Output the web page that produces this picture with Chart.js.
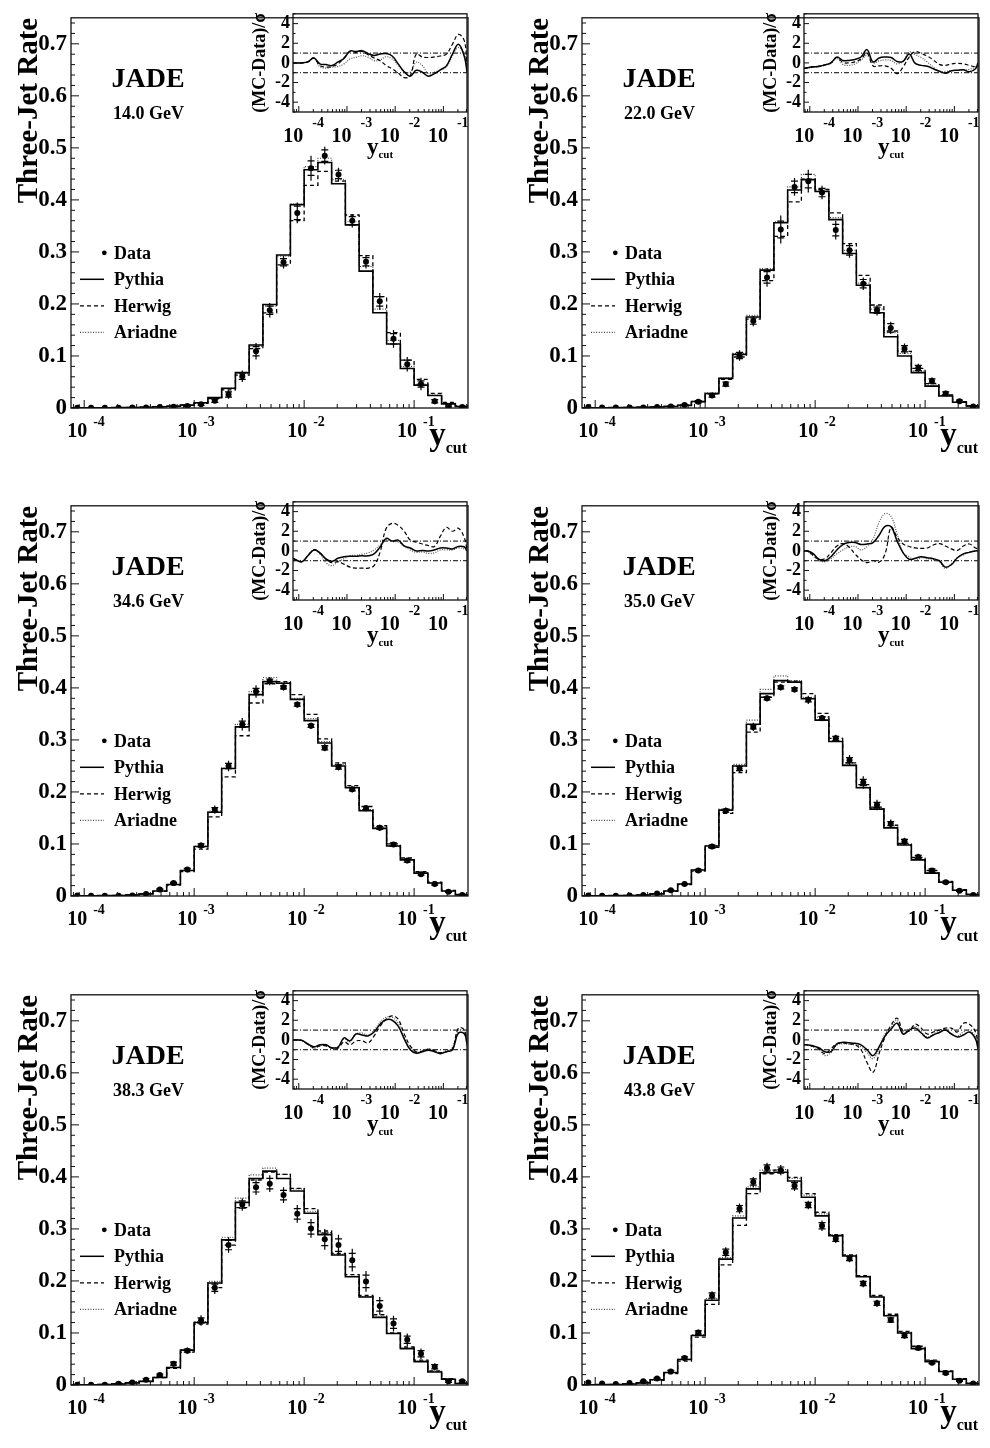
<!DOCTYPE html>
<html><head><meta charset="utf-8">
<script src="https://cdn.jsdelivr.net/npm/chart.js@4.4.0/dist/chart.umd.min.js"></script>
<style>
html,body{margin:0;padding:0;background:#fff;}
#wrap{position:relative;width:990px;height:1448px;overflow:hidden;background:#fff;}
#wrap canvas{position:absolute;}
</style></head><body><div id="wrap"></div>
<script>
// ---------------- DATA ----------------
// bin centres, log10(y_cut)
const logYcut = [-4.0625,-3.9375,-3.8125,-3.6875,-3.5625,-3.4375,-3.3125,-3.1875,-3.0625,-2.9375,-2.8125,-2.6875,-2.5625,-2.4375,-2.3125,-2.1875,-2.0625,-1.9375,-1.8125,-1.6875,-1.5625,-1.4375,-1.3125,-1.1875,-1.0625,-0.9375,-0.8125,-0.6875,-0.5625];
const HALF_BIN = 0.0625;
const xRange = [-4.12, -0.51];
const yTicks = [0,0.1,0.2,0.3,0.4,0.5,0.6,0.7];
const insetYTicks = [-4,-2,0,2,4];
const xDecades = [-4,-3,-2,-1];
const xDecadeLabels = ['-4','-3','-2','-1'];
const insetX = [-4.12,-4.0625,-3.9375,-3.8125,-3.6875,-3.5625,-3.4375,-3.3125,-3.1875,-3.0625,-2.9375,-2.8125,-2.6875,-2.5625,-2.4375,-2.3125,-2.1875,-2.0625,-1.9375,-1.8125,-1.6875,-1.5625,-1.4375,-1.3125,-1.1875,-1.0625,-0.9375,-0.8125,-0.6875,-0.5625,-0.51];
const insetRefLines = [1,-1];
const energies = ['14.0 GeV','22.0 GeV','34.6 GeV','35.0 GeV','38.3 GeV','43.8 GeV'];
const legendLabels = ['Data','Pythia','Herwig','Ariadne'];

// 14.0 GeV
const data14 = [0.0005,0.0005,0.0005,0.0007,0.001,0.0012,0.0018,0.0025,0.004,0.007,0.014,0.026,0.061,0.109,0.188,0.280,0.375,0.461,0.485,0.449,0.360,0.281,0.205,0.133,0.084,0.046,0.013,0.004,0.002];
const errTot14 = [0.001,0.001,0.001,0.001,0.001,0.001,0.001,0.001,0.002,0.003,0.004,0.008,0.011,0.016,0.014,0.012,0.020,0.024,0.017,0.013,0.013,0.013,0.016,0.017,0.014,0.012,0.006,0.003,0.002];
const errStat14 = [0,0,0,0,0,0,0,0,0.001,0.002,0.003,0.005,0.006,0.009,0.008,0.007,0.013,0.014,0.011,0.008,0.008,0.008,0.009,0.010,0.008,0.006,0.003,0.002,0.001];
const pythia14 = [0.0003,0.0004,0.0005,0.0007,0.001,0.0015,0.0025,0.0035,0.0055,0.010,0.020,0.038,0.068,0.121,0.199,0.294,0.391,0.458,0.472,0.431,0.352,0.263,0.183,0.123,0.076,0.044,0.024,0.008,0.003];
const herwig14 = [0.0003,0.0004,0.0005,0.0007,0.001,0.0015,0.0025,0.0035,0.005,0.009,0.018,0.035,0.063,0.114,0.183,0.275,0.360,0.428,0.455,0.436,0.371,0.293,0.214,0.145,0.092,0.055,0.028,0.011,0.004];
const ariadne14 = [0.0003,0.0004,0.0005,0.0007,0.001,0.0015,0.0025,0.0035,0.0055,0.010,0.020,0.037,0.066,0.119,0.196,0.292,0.392,0.464,0.480,0.439,0.358,0.272,0.190,0.130,0.080,0.046,0.025,0.009,0.003];
const pyDev14 = [0,0,0,0.1,0.5,-0.1,-0.17,-0.27,0.1,0.45,1.2,1.15,1.25,0.95,0.75,0.9,0.95,0.7,-0.1,-0.9,-1.35,-0.75,-0.95,-1.35,-1.1,-0.7,-0.3,0.9,1.9,0.6,-0.93];
const hwDev14 = [0,0,0,0.1,0.5,-0.27,-0.43,-0.37,-0.1,0.5,1.17,1.07,1.17,0.83,0.5,0.23,-0.27,-0.6,-1.03,-1.5,-1.3,0.9,0.6,0.55,0.6,0.7,0.9,1.9,2.9,2.2,-0.5];
const arDev14 = [0,0,0,0.1,0.5,-0.37,-0.53,-0.43,-0.37,-0.1,0.4,0.57,0.73,0.57,0.23,0.3,0.63,0.4,-0.27,-0.93,-0.93,0.07,-0.27,-1.1,-0.93,-0.7,-0.43,0.73,1.57,0.9,-0.77];

// 22.0 GeV
const data22 = [0.002,0.001,0.001,0.001,0.001,0.002,0.003,0.006,0.012,0.024,0.046,0.101,0.167,0.251,0.343,0.425,0.436,0.414,0.342,0.303,0.239,0.188,0.154,0.114,0.077,0.052,0.028,0.013,0.003];
const errTot22 = [0.001,0.001,0.001,0.001,0.001,0.001,0.001,0.002,0.003,0.004,0.006,0.010,0.010,0.018,0.027,0.017,0.022,0.013,0.018,0.014,0.012,0.010,0.012,0.010,0.008,0.007,0.005,0.003,0.002];
const errStat22 = [0,0,0,0,0,0,0.001,0.001,0.002,0.003,0.004,0.006,0.006,0.011,0.016,0.011,0.013,0.008,0.011,0.009,0.008,0.006,0.008,0.006,0.005,0.004,0.003,0.002,0.001];
const pythia22 = [0.0004,0.0005,0.0007,0.001,0.0015,0.002,0.003,0.005,0.0126,0.028,0.057,0.103,0.175,0.265,0.356,0.419,0.439,0.416,0.362,0.297,0.236,0.183,0.137,0.100,0.068,0.042,0.023,0.011,0.004];
const herwig22 = [0.0004,0.0005,0.0007,0.001,0.0015,0.002,0.003,0.005,0.012,0.027,0.055,0.098,0.171,0.245,0.330,0.396,0.440,0.420,0.375,0.316,0.255,0.198,0.148,0.109,0.076,0.047,0.025,0.012,0.004];
const ariadne22 = [0.0004,0.0005,0.0007,0.001,0.0015,0.002,0.003,0.005,0.013,0.029,0.058,0.105,0.178,0.268,0.358,0.425,0.449,0.419,0.366,0.303,0.240,0.190,0.145,0.105,0.071,0.044,0.024,0.011,0.004];
const pyDev22 = [-0.55,-0.5,-0.4,-0.35,-0.2,0,0.6,0.25,0.25,0.35,0.6,1.35,0.1,0.5,0.6,0.55,0.15,0.15,0.9,-0.05,-0.25,-0.35,-0.6,-0.85,-1.05,-0.8,-0.75,-0.7,-0.9,-0.6,0];
const hwDev22 = [-0.55,-0.5,-0.4,-0.35,-0.2,0,0.55,0.05,0,0.1,0.4,1.0,-0.3,-0.3,-0.3,-0.55,-1.1,-0.4,0.6,1.15,0.95,0.7,0.3,-0.15,-0.25,-0.1,-0.05,-0.1,-0.25,-0.4,-0.35];
const arDev22 = [-0.55,-0.55,-0.45,-0.4,-0.25,-0.05,0.45,-0.15,-0.25,-0.1,0.25,0.75,0.0,0.2,0.3,0.25,-0.1,0.2,1.1,0.85,0.55,0.1,-0.45,-0.85,-0.85,-0.8,-0.75,-0.75,-0.65,-0.4,-0.2];

// 34.6 GeV
const data346 = [0.001,0.0006,0.0006,0.0006,0.001,0.004,0.0126,0.025,0.051,0.097,0.166,0.250,0.330,0.393,0.413,0.401,0.368,0.327,0.285,0.248,0.205,0.169,0.131,0.099,0.068,0.042,0.023,0.008,0.002];
const errTot346 = [0.001,0.001,0.001,0.001,0.001,0.001,0.002,0.003,0.004,0.006,0.008,0.010,0.012,0.012,0.008,0.006,0.006,0.006,0.007,0.007,0.006,0.006,0.006,0.005,0.005,0.004,0.003,0.002,0.001];
const errStat346 = [0,0,0,0,0,0,0.001,0.001,0.002,0.003,0.004,0.005,0.006,0.006,0.004,0.003,0.003,0.003,0.004,0.004,0.003,0.003,0.003,0.003,0.003,0.002,0.002,0.001,0.001];
const pythia346 = [0.0005,0.0006,0.0008,0.001,0.002,0.004,0.0095,0.022,0.049,0.095,0.161,0.245,0.325,0.387,0.412,0.409,0.378,0.337,0.294,0.250,0.208,0.164,0.130,0.096,0.0695,0.044,0.025,0.0095,0.002];
const herwig346 = [0.0005,0.0006,0.0008,0.001,0.002,0.004,0.009,0.021,0.047,0.090,0.152,0.229,0.308,0.371,0.408,0.412,0.387,0.349,0.302,0.256,0.212,0.172,0.135,0.100,0.073,0.047,0.0265,0.011,0.003];
const ariadne346 = [0.0005,0.0006,0.0008,0.001,0.002,0.004,0.0095,0.022,0.049,0.096,0.163,0.246,0.330,0.393,0.420,0.410,0.380,0.341,0.297,0.253,0.210,0.166,0.131,0.097,0.070,0.045,0.025,0.0095,0.002];
const pyDev346 = [-0.75,-0.9,-1.1,-0.5,0.1,-0.2,-0.8,-1.05,-0.75,-0.6,-0.55,-0.55,-0.5,-0.5,-0.3,0.4,1.27,1.0,1.1,0.5,0.3,0.0,0.05,0.0,0.1,0.3,0.3,0.2,0.45,0.4,0];
const hwDev346 = [-0.75,-0.9,-1.1,-0.5,0.1,-0.2,-0.85,-1.2,-1.1,-1.35,-1.65,-1.75,-1.75,-1.75,-1.5,-0.1,2.27,2.8,2.6,2.0,1.1,0.9,0.7,0.55,0.45,1.5,2.4,2.0,2.3,1.3,0.1];
const arDev346 = [-0.75,-0.9,-1.1,-0.5,0.1,-0.3,-1.2,-1.5,-1.1,-0.8,-0.5,-0.45,-0.35,-0.2,0.1,0.6,1.1,0.95,0.9,0.45,0.1,-0.15,-0.1,-0.25,-0.2,0.1,0.1,0.1,0.3,0.2,0];

// 35.0 GeV
const data35 = [0.001,0.0006,0.0006,0.001,0.002,0.005,0.011,0.023,0.049,0.095,0.164,0.245,0.325,0.380,0.401,0.397,0.377,0.342,0.303,0.261,0.218,0.175,0.139,0.105,0.075,0.049,0.0265,0.010,0.002];
const errTot35 = [0.001,0.001,0.001,0.001,0.001,0.001,0.002,0.003,0.004,0.005,0.006,0.007,0.008,0.006,0.006,0.006,0.008,0.006,0.007,0.010,0.012,0.010,0.008,0.007,0.006,0.005,0.004,0.002,0.001];
const errStat35 = [0,0,0,0,0,0,0.001,0.001,0.002,0.003,0.003,0.004,0.004,0.003,0.003,0.003,0.004,0.003,0.004,0.005,0.006,0.005,0.004,0.004,0.003,0.003,0.002,0.001,0.001];
const pythia35 = [0.0005,0.0006,0.0008,0.001,0.002,0.004,0.0095,0.023,0.050,0.096,0.165,0.250,0.330,0.389,0.414,0.411,0.379,0.338,0.297,0.251,0.208,0.167,0.131,0.098,0.0695,0.044,0.0265,0.011,0.003];
const herwig35 = [0.0005,0.0006,0.0008,0.001,0.002,0.004,0.009,0.022,0.048,0.0935,0.159,0.237,0.315,0.382,0.411,0.413,0.389,0.351,0.303,0.256,0.214,0.171,0.136,0.101,0.074,0.049,0.028,0.012,0.003];
const ariadne35 = [0.0005,0.0006,0.0008,0.001,0.002,0.004,0.0095,0.023,0.050,0.097,0.167,0.253,0.338,0.397,0.423,0.414,0.382,0.344,0.297,0.252,0.209,0.168,0.132,0.099,0.070,0.045,0.027,0.011,0.003];
const pyDev35 = [0,0.0,-0.25,-0.85,-1.0,-0.6,0.1,0.65,0.85,0.85,0.65,0.7,0.85,1.6,2.5,2.45,1.0,-0.2,-0.85,-0.75,-0.6,-0.7,-0.8,-1.0,-1.65,-1.4,-0.7,-0.3,-0.15,0.0,0];
const hwDev35 = [0,0.0,-0.4,-0.85,-0.8,-0.2,0.5,0.75,0.4,-0.3,-0.9,-1.2,-1.0,-1.15,-0.3,2.4,1.4,0.7,0.45,0.3,0.25,0.3,0.6,0.75,0.5,0.2,0.05,0.5,0.7,0.3,0.2];
const arDev35 = [0,0.0,-0.5,-1.0,-1.1,-0.8,-0.3,0.1,0.4,0.45,0.1,0.45,1.2,2.9,3.8,3.5,1.7,-0.2,-0.6,-0.95,-0.7,-0.8,-0.9,-1.1,-1.8,-1.3,-0.7,-0.4,-0.1,0.0,0];

// 38.3 GeV
const data383 = [0.0006,0.0006,0.0006,0.0025,0.005,0.010,0.019,0.041,0.066,0.124,0.187,0.269,0.347,0.380,0.387,0.365,0.329,0.301,0.280,0.269,0.240,0.199,0.152,0.118,0.087,0.060,0.035,0.007,0.007];
const errTot383 = [0.001,0.001,0.001,0.002,0.002,0.003,0.004,0.005,0.006,0.010,0.012,0.015,0.012,0.015,0.016,0.015,0.017,0.018,0.020,0.020,0.022,0.020,0.017,0.015,0.012,0.010,0.007,0.003,0.003];
const errStat383 = [0,0,0,0.001,0.001,0.002,0.002,0.003,0.003,0.005,0.007,0.009,0.007,0.009,0.010,0.009,0.010,0.011,0.012,0.012,0.013,0.012,0.010,0.009,0.007,0.006,0.004,0.002,0.002];
const pythia383 = [0.0005,0.0006,0.001,0.002,0.004,0.007,0.0145,0.0335,0.067,0.120,0.196,0.279,0.351,0.397,0.411,0.397,0.373,0.330,0.289,0.250,0.208,0.169,0.130,0.099,0.070,0.045,0.025,0.011,0.003];
const herwig383 = [0.0005,0.0006,0.001,0.002,0.004,0.007,0.014,0.032,0.063,0.117,0.187,0.269,0.341,0.394,0.409,0.405,0.378,0.339,0.296,0.253,0.212,0.172,0.135,0.100,0.073,0.048,0.027,0.012,0.003];
const ariadne383 = [0.0005,0.0006,0.001,0.002,0.004,0.007,0.015,0.034,0.068,0.122,0.199,0.284,0.359,0.404,0.417,0.405,0.377,0.334,0.293,0.251,0.209,0.170,0.131,0.099,0.071,0.046,0.026,0.011,0.003];
const pyDev383 = [0,0.0,-0.05,-0.4,-0.7,-0.5,-0.5,-0.8,-0.75,0.2,-0.1,0.6,0.5,0.4,0.8,1.6,2.05,2.0,1.4,0.1,-1.0,-1.35,-1.2,-1.05,-1.2,-1.4,-1.2,-1.0,0.7,0.6,-0.4];
const hwDev383 = [0,0.0,-0.05,-0.45,-0.8,-0.6,-0.6,-0.85,-0.85,-0.2,-0.5,-0.1,-0.1,-0.3,0.4,1.4,2.1,2.45,2.1,0.6,-0.6,-1.2,-1.15,-0.95,-1.1,-1.3,-1.2,-0.9,1.2,1.0,-0.6];
const arDev383 = [0,0.0,-0.05,-0.45,-0.85,-0.6,-0.55,-0.8,-0.7,0.1,-0.2,0.6,0.7,0.5,1.0,1.8,2.3,2.3,1.7,0.3,-0.8,-1.3,-1.1,-0.9,-1.1,-1.3,-1.1,-0.8,1.0,0.8,-0.5];

// 43.8 GeV
const data438 = [0.005,0.003,0.002,0.004,0.007,0.0126,0.026,0.052,0.101,0.172,0.255,0.339,0.390,0.417,0.413,0.383,0.346,0.306,0.281,0.243,0.195,0.157,0.125,0.095,0.071,0.043,0.023,0.008,0.003];
const errTot438 = [0.001,0.001,0.001,0.001,0.002,0.002,0.003,0.004,0.005,0.008,0.010,0.010,0.010,0.010,0.010,0.010,0.008,0.010,0.008,0.007,0.007,0.007,0.006,0.006,0.005,0.004,0.003,0.002,0.001];
const errStat438 = [0,0,0,0,0.001,0.001,0.002,0.002,0.003,0.005,0.006,0.006,0.006,0.006,0.006,0.006,0.005,0.006,0.005,0.004,0.004,0.004,0.004,0.004,0.003,0.002,0.002,0.001,0.001];
const pythia438 = [0.0005,0.0007,0.001,0.002,0.004,0.010,0.024,0.049,0.095,0.163,0.242,0.321,0.377,0.408,0.409,0.392,0.361,0.325,0.287,0.248,0.208,0.169,0.133,0.100,0.070,0.045,0.026,0.011,0.003];
const herwig438 = [0.0005,0.0007,0.001,0.002,0.004,0.009,0.022,0.046,0.092,0.155,0.231,0.307,0.368,0.406,0.413,0.399,0.368,0.332,0.289,0.250,0.210,0.172,0.136,0.103,0.0745,0.048,0.027,0.012,0.003];
const ariadne438 = [0.0005,0.0007,0.001,0.002,0.004,0.010,0.024,0.050,0.097,0.166,0.245,0.325,0.381,0.413,0.414,0.397,0.365,0.329,0.289,0.249,0.209,0.170,0.134,0.101,0.071,0.046,0.026,0.011,0.003];
const pyDev438 = [-0.5,-0.5,-0.6,-0.8,-1.2,-1.2,-0.4,-0.25,-0.3,-0.35,-0.5,-1.0,-1.6,-0.7,0.4,1.1,1.7,0.6,1.0,1.2,0.7,0.2,0.5,0.75,1.0,0.6,0.3,0.5,0.8,0.1,-0.9];
const hwDev438 = [-0.5,-0.5,-0.65,-0.9,-1.4,-0.9,-0.4,-0.3,-0.4,-0.5,-1.0,-2.3,-3.3,-1.4,0.3,1.5,2.2,0.9,0.9,1.6,1.2,0.6,0.8,1.0,1.2,1.2,0.8,1.7,1.6,0.8,-0.5];
const arDev438 = [-0.5,-0.5,-0.7,-1.0,-1.6,-1.3,-0.5,-0.4,-0.45,-0.5,-0.7,-1.3,-1.9,-0.9,0.6,1.3,2.0,0.7,1.1,1.4,0.8,0.3,0.6,0.9,1.1,0.6,0.4,0.8,1.0,0.3,-0.7];

// ---------------- PANELS ----------------
const panels = [
  {energy:energies[0], data:data14, errTot:errTot14, errStat:errStat14, pythia:pythia14, herwig:herwig14, ariadne:ariadne14, pyDev:pyDev14, hwDev:hwDev14, arDev:arDev14},
  {energy:energies[1], data:data22, errTot:errTot22, errStat:errStat22, pythia:pythia22, herwig:herwig22, ariadne:ariadne22, pyDev:pyDev22, hwDev:hwDev22, arDev:arDev22},
  {energy:energies[2], data:data346, errTot:errTot346, errStat:errStat346, pythia:pythia346, herwig:herwig346, ariadne:ariadne346, pyDev:pyDev346, hwDev:hwDev346, arDev:arDev346},
  {energy:energies[3], data:data35, errTot:errTot35, errStat:errStat35, pythia:pythia35, herwig:herwig35, ariadne:ariadne35, pyDev:pyDev35, hwDev:hwDev35, arDev:arDev35},
  {energy:energies[4], data:data383, errTot:errTot383, errStat:errStat383, pythia:pythia383, herwig:herwig383, ariadne:ariadne383, pyDev:pyDev383, hwDev:hwDev383, arDev:arDev383},
  {energy:energies[5], data:data438, errTot:errTot438, errStat:errStat438, pythia:pythia438, herwig:herwig438, ariadne:ariadne438, pyDev:pyDev438, hwDev:hwDev438, arDev:arDev438}
];
const panelPos = [[0,0],[511,0],[0,488],[511,488],[0,977],[511,977]];

// ---------------- DRAWING ----------------
const FAM = "'Liberation Serif','Times New Roman',serif";
const F = s => `bold ${s}px ${FAM}`;
const INK = '#000';
const wrap = document.getElementById('wrap');
function mkCanvas(l,t,w,h){
  const c = document.createElement('canvas');
  c.width = w; c.height = h;
  c.style.left = l+'px'; c.style.top = t+'px';
  c.style.width = w+'px'; c.style.height = h+'px';
  wrap.appendChild(c);
  return c;
}
function seg(ctx,x1,y1,x2,y2){ ctx.beginPath(); ctx.moveTo(x1,y1); ctx.lineTo(x2,y2); ctx.stroke(); }
function stepPoints(vals){
  const pts = logYcut.map((c,i)=>({x:c-HALF_BIN, y:vals[i]}));
  pts.push({x:logYcut[logYcut.length-1]+HALF_BIN, y:vals[vals.length-1]});
  return pts;
}
function logMinorTicks(min,max){
  const out=[];
  for(let n=-5;n<=0;n++) for(let k=2;k<=9;k++){ const v=n+Math.log10(k); if(v>min&&v<max) out.push(v); }
  return out;
}
function drawFrame(ctx,ca){
  ctx.save(); ctx.strokeStyle='#111'; ctx.lineWidth=1.3; ctx.setLineDash([]);
  ctx.strokeRect(ca.left, ca.top, ca.right-ca.left, ca.bottom-ca.top);
  ctx.restore();
}
function drawXTicksAndLabels(ctx, ca, xs, majLen, minLen, big, sup, baseOff, supOff, tenDx, supDx){
  ctx.save(); ctx.strokeStyle='#111'; ctx.lineWidth=1;
  logMinorTicks(xs.min, xs.max).forEach(v=>{ const p=xs.getPixelForValue(v); seg(ctx,p,ca.bottom,p,ca.bottom-minLen); });
  xDecades.forEach((d,i)=>{
    const p=xs.getPixelForValue(d);
    seg(ctx,p,ca.bottom,p,ca.bottom-majLen);
    ctx.fillStyle=INK;
    ctx.font=F(big); ctx.textAlign='right'; ctx.textBaseline='alphabetic';
    ctx.fillText('10', p+tenDx, ca.bottom+baseOff);
    ctx.font=F(sup); ctx.textAlign='left';
    ctx.fillText(xDecadeLabels[i], p+supDx, ca.bottom+supOff);
  });
  ctx.restore();
}

function mainDecor(P){
  return {
    id:'mainDecor',
    afterDatasetsDraw(chart){
      const {ctx, chartArea:ca, scales:{x,y}} = chart;
      ctx.save();
      ctx.beginPath(); ctx.rect(ca.left,ca.top,ca.right-ca.left,ca.bottom-ca.top); ctx.clip();
      ctx.strokeStyle=INK; ctx.lineWidth=1.2; ctx.setLineDash([]);
      logYcut.forEach((c,i)=>{
        const px=x.getPixelForValue(c), v=P.data[i];
        if(P.errTot[i]>0) seg(ctx,px,y.getPixelForValue(v-P.errTot[i]),px,y.getPixelForValue(v+P.errTot[i]));
        if(P.errStat[i]>0){ [-1,1].forEach(s=>{ const py=y.getPixelForValue(v+s*P.errStat[i]); seg(ctx,px-3.5,py,px+3.5,py); }); }
      });
      ctx.restore();
    },
    afterDraw(chart){
      const {ctx, chartArea:ca, scales:{x,y}} = chart;
      drawFrame(ctx,ca);
      ctx.save(); ctx.strokeStyle='#111'; ctx.lineWidth=1;
      for(let k=0;k<=37;k++){
        const v=k*0.02; const p=y.getPixelForValue(v);
        const major = (k%5===0);
        seg(ctx,ca.left,p,ca.left+(major?8:4),p);
      }
      ctx.restore();
      drawXTicksAndLabels(ctx,ca,x,8,4,20,14,29,18,3,9);
      ctx.save(); ctx.fillStyle=INK; ctx.textBaseline='alphabetic';
      ctx.font=F(16); ctx.textAlign='right';
      const wCut=ctx.measureText('cut').width;
      ctx.fillText('cut', ca.right-1, ca.bottom+45);
      ctx.font=F(33);
      ctx.fillText('y', ca.right-1-wCut, ca.bottom+37);
      ctx.save(); ctx.translate(36.5, ca.top); ctx.rotate(-Math.PI/2);
      ctx.font=F(29); ctx.textAlign='right'; ctx.fillText('Three-Jet Rate',0,0); ctx.restore();
      ctx.textAlign='left';
      ctx.font=F(28); ctx.fillText('JADE', ca.left+40.5, ca.top+69);
      ctx.font=F(18); ctx.fillText(P.energy, ca.left+42, ca.top+101);
      const lx=ca.left, ly=ca.top;
      const base=[241,267.5,294,320.5];
      ctx.beginPath(); ctx.arc(lx+33.3, base[0]+ly-6, 2.4, 0, Math.PI*2); ctx.fill();
      ctx.font=F(18);
      legendLabels.forEach((t,i)=>ctx.fillText(t, lx+43, ly+base[i]));
      const styles=[{d:[],w:1.5,c:'#000'},{d:[4,3],w:1.3,c:'#000'},{d:[1,1.6],w:1.2,c:'#444'}];
      styles.forEach((s,i)=>{
        ctx.strokeStyle=s.c; ctx.lineWidth=s.w; ctx.setLineDash(s.d);
        const yy=ly+base[i+1]-6;
        seg(ctx,lx+9,yy,lx+33,yy);
      });
      ctx.restore();
    }
  };
}

function insetDecor(){
  return {
    id:'insetDecor',
    afterDraw(chart){
      const {ctx, chartArea:ca, scales:{x,y}} = chart;
      drawFrame(ctx,ca);
      ctx.save(); ctx.strokeStyle='#111'; ctx.lineWidth=1;
      for(let v=-5; v<=5; v++){
        const p=y.getPixelForValue(v);
        const major = insetYTicks.includes(v);
        seg(ctx,ca.left,p,ca.left+(major?5:2.5),p);
      }
      ctx.restore();
      drawXTicksAndLabels(ctx,ca,x,6,3,20,14,30,15,4.5,13.5);
      ctx.save(); ctx.fillStyle=INK; ctx.textBaseline='alphabetic';
      ctx.font=F(23); const wy=ctx.measureText('y').width;
      ctx.font=F(11); const wc=ctx.measureText('cut').width;
      const cx=(ca.left+ca.right)/2 - (wy+wc)/2;
      ctx.textAlign='left';
      ctx.font=F(23); ctx.fillText('y', cx, ca.bottom+41.5);
      ctx.font=F(11); ctx.fillText('cut', cx+wy, ca.bottom+46);
      ctx.translate(25, (ca.top+ca.bottom)/2); ctx.rotate(-Math.PI/2);
      ctx.font=F(18); ctx.textAlign='center';
      ctx.fillText('(MC-Data)/\u03C3', 0, 0);
      ctx.restore();
    }
  };
}

Chart.defaults.font.family = FAM;

panels.forEach((P,idx)=>{
  const [pl,pt] = panelPos[idx];
  const cMain = mkCanvas(pl, pt, 479, 488);
  new Chart(cMain, {
    type:'line',
    data:{datasets:[
      {label:legendLabels[0], data:P.data.map((v,i)=>({x:logYcut[i], y:v})), showLine:false, pointRadius:3, pointBackgroundColor:'#000', pointBorderWidth:0, borderColor:'#000'},
      {label:legendLabels[1], data:stepPoints(P.pythia), stepped:true, borderColor:'#000', borderWidth:1.6, pointRadius:0, fill:false},
      {label:legendLabels[2], data:stepPoints(P.herwig), stepped:true, borderColor:'#000', borderWidth:1.3, borderDash:[4,3], pointRadius:0, fill:false},
      {label:legendLabels[3], data:stepPoints(P.ariadne), stepped:true, borderColor:'#444', borderWidth:1.2, borderDash:[1,1.6], pointRadius:0, fill:false}
    ]},
    options:{
      responsive:false, animation:false, events:[],
      layout:{padding:{left:0, top:12, right:11, bottom:0}},
      plugins:{legend:{display:false}, tooltip:{enabled:false}},
      scales:{
        x:{type:'linear', min:xRange[0], max:xRange[1], ticks:{display:false}, grid:{display:false, drawTicks:false}, border:{display:false},
           afterFit(s){ s.height = 80; }},
        y:{type:'linear', min:0, max:0.75,
           afterBuildTicks(s){ s.ticks = yTicks.map(v=>({value:v})); },
           ticks:{autoSkip:false, callback:v=> v===0 ? '0' : v.toFixed(1), font:{size:23, weight:'bold', family:FAM}, color:'#000', padding:4},
           grid:{display:false, drawTicks:false}, border:{display:false},
           afterFit(s){ s.width = 71; }}
      }
    },
    plugins:[mainDecor(P)]
  });
  const cIn = mkCanvas(pl+240, pt, 232, 170);
  const devSet = (vals, style) => Object.assign({data:insetX.map((xx,i)=>({x:xx, y:vals[i]})), pointRadius:0, tension:0.4, fill:false}, style);
  new Chart(cIn, {
    type:'line',
    data:{datasets:[
      devSet(P.pyDev, {borderColor:'#000', borderWidth:1.5}),
      devSet(P.hwDev, {borderColor:'#000', borderWidth:1.2, borderDash:[4,2.5]}),
      devSet(P.arDev, {borderColor:'#555', borderWidth:1.2, borderDash:[1,1.4]}),
      ...insetRefLines.map(v=>({data:[{x:xRange[0],y:v},{x:xRange[1],y:v}], borderColor:'#000', borderWidth:1, borderDash:[5,2,1,2], pointRadius:0, fill:false}))
    ]},
    options:{
      responsive:false, animation:false, events:[],
      layout:{padding:{left:0, top:12, right:5, bottom:0}},
      plugins:{legend:{display:false}, tooltip:{enabled:false}},
      scales:{
        x:{type:'linear', min:xRange[0], max:xRange[1], ticks:{display:false}, grid:{display:false, drawTicks:false}, border:{display:false},
           afterFit(s){ s.height = 58; }},
        y:{type:'linear', min:-5, max:5,
           afterBuildTicks(s){ s.ticks = insetYTicks.map(v=>({value:v})); },
           ticks:{autoSkip:false, callback:v=>String(v), font:{size:18, weight:'bold', family:FAM}, color:'#000', padding:3},
           grid:{display:false, drawTicks:false}, border:{display:false},
           afterFit(s){ s.width = 53; }}
      }
    },
    plugins:[insetDecor()]
  });
});
</script></body></html>
